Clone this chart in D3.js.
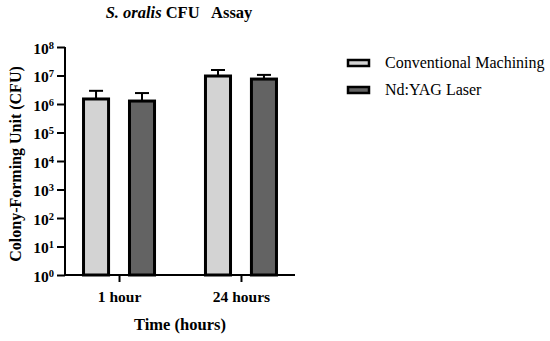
<!DOCTYPE html>
<html lang="en">
<head>
  <meta charset="UTF-8">
  <title>S. oralis CFU Assay</title>
  <script src="https://d3js.org/d3.v7.min.js"></script>
  <style>
    body { margin: 0; padding: 0; background: #fff; }
    svg { font-family: 'Liberation Serif', 'Times New Roman', serif; }
    .axis path, .axis line { stroke: #000; stroke-width: 2; }
    .axis text { font-size: 15.5px; font-weight: bold; fill: #000; }
  </style>
</head>
<body>
  <div id="chart"></div>
  <script>
    // data
    const categories = ["1 hour", "24 hours"];
    const groups = ["Conventional Machining", "Nd:YAG Laser"];
    const meanConventional = [1.5e6, 9.6e6];
    const sdConventional = [1.4e6, 6.0e6];
    const meanLaser = [1.27e6, 7.5e6];
    const sdLaser = [1.15e6, 3.0e6];
    const yTickExponents = [0, 1, 2, 3, 4, 5, 6, 7, 8];

    const colors = ["#d3d3d3", "#636363"];
    const width = 550, height = 341;
    const serif = "'Liberation Serif', 'Times New Roman', serif";

    const svg = d3.select('#chart').append('svg')
      .attr('width', width)
      .attr('height', height);

    const x = d3.scalePoint()
      .domain(categories)
      .range([65, 295])
      .padding(0.443);

    const xSub = d3.scaleBand()
      .domain(groups)
      .range([-37, 37])
      .paddingInner(0.39);

    const y = d3.scaleLog()
      .domain([1, 1e8])
      .range([275, 47]);

    // axes
    const yAxis = svg.append('g')
      .attr('class', 'axis')
      .attr('transform', 'translate(65,0)')
      .call(d3.axisLeft(y)
        .tickValues(yTickExponents.map(e => Math.pow(10, e)))
        .tickSize(8)
        .tickPadding(3)
        .tickFormat(''))
      .attr('font-family', serif);
    yAxis.select('.domain').attr('d', 'M0,' + y(1e8) + 'V' + y(1));
    yAxis.selectAll('.tick text')
      .attr('dy', '0.4em')
      .each(function(d) {
        const t = d3.select(this);
        t.append('tspan').text('10');
        t.append('tspan')
          .attr('dy', '-0.45em')
          .attr('font-size', '10.5px')
          .text(Math.round(Math.log10(d)));
      });

    const xAxis = svg.append('g')
      .attr('class', 'axis')
      .attr('transform', 'translate(0,' + y(1) + ')')
      .call(d3.axisBottom(x).tickSize(7).tickPadding(9))
      .attr('font-family', serif);
    xAxis.select('.domain').attr('d', 'M65,0H295');

    // bars
    const rows = categories.map((c, i) => ({
      cat: c,
      vals: [
        { g: groups[0], mean: meanConventional[i], sd: sdConventional[i], color: colors[0] },
        { g: groups[1], mean: meanLaser[i], sd: sdLaser[i], color: colors[1] }
      ]
    }));

    const grp = svg.append('g').selectAll('g')
      .data(rows)
      .enter().append('g')
      .attr('transform', d => 'translate(' + x(d.cat) + ',0)');

    const bar = grp.selectAll('g')
      .data(d => d.vals)
      .enter().append('g');

    // error bars (upper only)
    bar.append('line')
      .attr('x1', d => xSub(d.g) + xSub.bandwidth() / 2)
      .attr('x2', d => xSub(d.g) + xSub.bandwidth() / 2)
      .attr('y1', d => y(d.mean))
      .attr('y2', d => y(d.mean + d.sd))
      .attr('stroke', '#000')
      .attr('stroke-width', 2);
    bar.append('line')
      .attr('x1', d => xSub(d.g) + xSub.bandwidth() / 2 - 7)
      .attr('x2', d => xSub(d.g) + xSub.bandwidth() / 2 + 7)
      .attr('y1', d => y(d.mean + d.sd))
      .attr('y2', d => y(d.mean + d.sd))
      .attr('stroke', '#000')
      .attr('stroke-width', 2);

    bar.append('rect')
      .attr('x', d => xSub(d.g) + 1.5)
      .attr('y', d => y(d.mean))
      .attr('width', xSub.bandwidth() - 3)
      .attr('height', d => y(1) - y(d.mean))
      .attr('fill', d => d.color)
      .attr('stroke', '#000')
      .attr('stroke-width', 3);

    // title
    const title = svg.append('text')
      .attr('x', 179)
      .attr('y', 18)
      .attr('text-anchor', 'middle')
      .attr('font-size', '16.5px')
      .attr('font-weight', 'bold');
    title.append('tspan').attr('font-style', 'italic').text('S. oralis');
    title.append('tspan').text(' CFU\u00a0\u00a0 Assay');

    // axis titles
    svg.append('text')
      .attr('transform', 'translate(21,164) rotate(-90)')
      .attr('text-anchor', 'middle')
      .attr('font-size', '16px')
      .attr('font-weight', 'bold')
      .text('Colony-Forming Unit (CFU)');

    svg.append('text')
      .attr('x', 180)
      .attr('y', 330)
      .attr('text-anchor', 'middle')
      .attr('font-size', '16.5px')
      .attr('font-weight', 'bold')
      .text('Time (hours)');

    // legend
    const legend = svg.append('g').selectAll('g')
      .data(groups)
      .enter().append('g')
      .attr('transform', (d, i) => 'translate(347,' + (59 + i * 27) + ')');
    legend.append('rect')
      .attr('x', 1)
      .attr('y', 1)
      .attr('width', 21)
      .attr('height', 6)
      .attr('fill', (d, i) => colors[i])
      .attr('stroke', '#000')
      .attr('stroke-width', 2.5);
    legend.append('text')
      .attr('x', 38)
      .attr('y', 9)
      .attr('font-size', '16px')
      .text(d => d);
  </script>
</body>
</html>
